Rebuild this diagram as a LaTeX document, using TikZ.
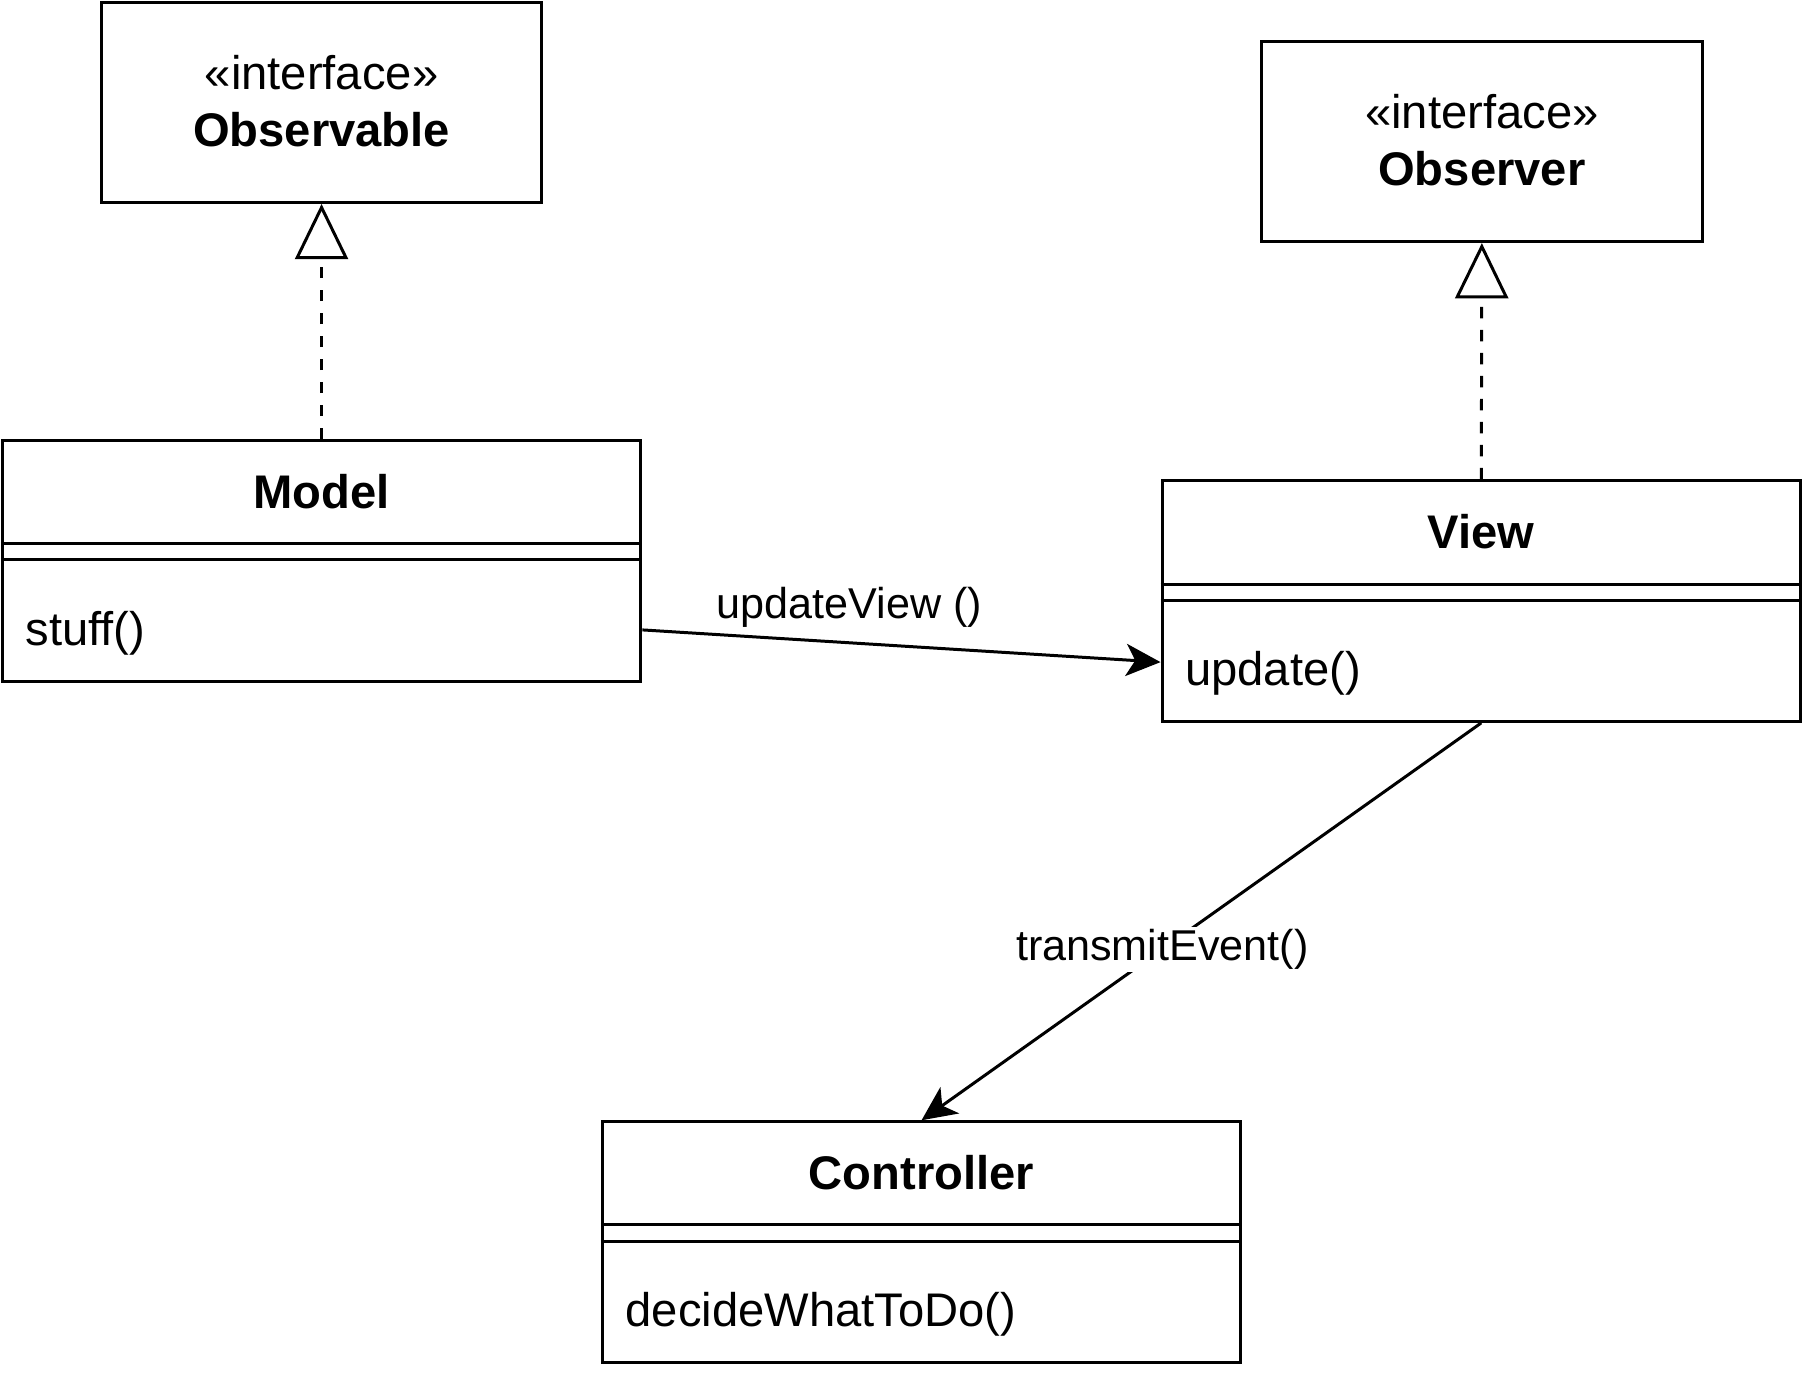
\documentclass[tikz,border=0pt]{standalone}
\usepackage{fontspec}
\setmainfont{Liberation Sans}
\usetikzlibrary{arrows.meta}
\tikzset{
  classbox/.style={draw, line width=2.6pt, minimum width=555pt, minimum height=209pt, inner sep=0pt},
  ifacebox/.style={draw, line width=2.6pt, minimum width=383pt, minimum height=174pt, inner sep=0pt},
  big/.style={font=\fontsize{41}{49}\selectfont},
  small/.style={font=\fontsize{37.5}{45}\selectfont},
  realize/.style={line width=2.6pt, dash pattern=on 10pt off 10pt, -{Triangle[open, length=48pt, width=46pt]}},
  call/.style={line width=2.6pt, -{Stealth[length=30pt, width=28pt, inset=8pt]}},
  sep/.style={line width=2.6pt}
}
\begin{document}
\begin{tikzpicture}[x=1pt,y=-1pt]
\useasboundingbox (0,0) rectangle (1568,1196);
\begin{scope}
\node[ifacebox] (observable) at (279.5,89) {};
\node[ifacebox] (observer) at (1288,123) {};
\node[classbox] (model) at (279.5,487.5) {};
\node[classbox] (view) at (1287.5,522.5) {};
\node[classbox] (controller) at (801,1079.5) {};
\end{scope}
\begin{scope}
\draw ([yshift=26pt]observable.center) node[big] (observablest) {«interface»};
\draw ([yshift=-24pt]observable.center) node[big] (observablename) {\bfseries Observable};
\draw ([yshift=26pt]observer.center) node[big] (observerst) {«interface»};
\draw ([yshift=-24pt]observer.center) node[big] (observername) {\bfseries Observer};
\draw ([yshift=-45.5pt]model.north) node[big] (modelname) {\bfseries Model};
\draw ([yshift=-45.5pt]view.north) node[big] (viewname) {\bfseries View};
\draw ([yshift=-45.5pt]controller.north) node[big] (controllername) {\bfseries Controller};
\draw ([xshift=18pt,yshift=43pt]model.south west) node[big, anchor=west] (modelop) {stuff()};
\draw ([xshift=18pt,yshift=43pt]view.south west) node[big, anchor=west] (viewop) {update()};
\draw ([xshift=18pt,yshift=43pt]controller.south west) node[big, anchor=west] (controllerop) {decideWhatToDo()};
\end{scope}
\begin{scope}
\draw[sep] ([yshift=-91pt]model.north west) -- ([yshift=-91pt]model.north east);
\draw[sep] ([yshift=-105pt]model.north west) -- ([yshift=-105pt]model.north east);
\draw[sep] ([yshift=-91pt]view.north west) -- ([yshift=-91pt]view.north east);
\draw[sep] ([yshift=-105pt]view.north west) -- ([yshift=-105pt]view.north east);
\draw[sep] ([yshift=-91pt]controller.north west) -- ([yshift=-91pt]controller.north east);
\draw[sep] ([yshift=-105pt]controller.north west) -- ([yshift=-105pt]controller.north east);
\end{scope}
\begin{scope}
\draw[realize] (model.north) -- (observable.south);
\draw[realize] (view.north) -- (observer.south);
\draw[call] ([yshift=-60pt]model.east) -- node[small, pos=0.4, yshift=31pt] (updatelabel) {updateView ()} ([yshift=-53pt]view.west);
\draw[call] (view.south) -- node[small, pos=0.57, fill=white, inner sep=2pt] (eventlabel) {transmitEvent()} (controller.north);
\end{scope}
\end{tikzpicture}
\end{document}
